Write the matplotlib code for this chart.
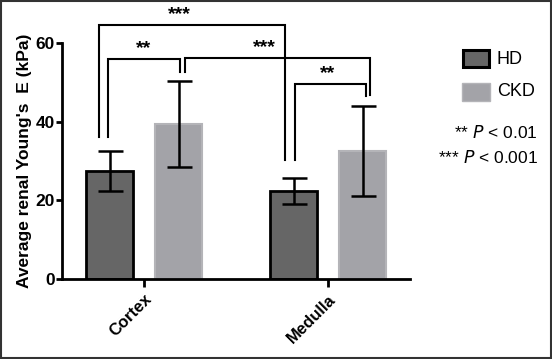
import matplotlib
matplotlib.use("Agg")
import matplotlib.pyplot as plt
from matplotlib.patches import Rectangle
import numpy as np

plt.rcParams['font.family'] = ['Liberation Sans', 'DejaVu Sans']

categories = ["Cortex", "Medulla"]
groups = ["HD", "CKD"]
hd_mean = [27.5, 22.3]
hd_err = [5.0, 3.3]
ckd_mean = [39.4, 32.6]
ckd_err = [11.0, 11.4]
yticks = [0, 20, 40, 60]

# significance brackets: (x_left, x_right, y_top, y_left_bottom, y_right_bottom, label, label_x)
brackets = [
    (-0.246, 0.766, 64.6, 36.1, 30.3, "***", 0.19),
    (-0.194, 0.196, 55.9, 36.2, 52.7, "**", 0.0),
    (0.223, 1.228, 56.1, 52.7, 46.8, "***", 0.652),
    (0.820, 1.207, 49.5, 30.3, 46.5, "**", 1.0),
]

fig = plt.figure(figsize=(5.52, 3.59), dpi=100)
ax = fig.add_axes([0.1123, 0.2228, 0.6307, 0.6572])

x = np.arange(len(categories))
off = 0.1875
w = 0.26
hd_col = "#666666"
ckd_col = "#a3a3a8"

ax.bar(x - off, hd_mean, w, color=hd_col, edgecolor="black", linewidth=2.0, zorder=2)
ax.bar(x + off, ckd_mean, w, color=ckd_col, edgecolor="#b4b4b8", linewidth=1.5, zorder=2)
ax.errorbar(x - off, hd_mean, yerr=hd_err, fmt="none", ecolor="black",
            elinewidth=1.8, capsize=9, capthick=1.8, zorder=3)
ax.errorbar(x + off, ckd_mean, yerr=ckd_err, fmt="none", ecolor="black",
            elinewidth=1.8, capsize=9, capthick=1.8, zorder=3)

for xl, xr, yt, yl, yr, lab, lx in brackets:
    ax.plot([xl, xl, xr, xr], [yl, yt, yt, yr], color="black", lw=1.5,
            clip_on=False, zorder=4, solid_joinstyle="miter")
    ax.text(lx, yt + 0.6, lab, ha="center", va="bottom",
            fontsize=14, fontweight="bold", clip_on=False)

ax.set_xlim(-0.446, 1.446)
ax.set_ylim(0, 60)
ax.set_yticks(yticks)
ax.set_yticklabels([str(t) for t in yticks], fontsize=12.5, fontweight="bold")
ax.set_xticks(x)
ax.set_xticklabels(categories, rotation=45, ha="right", rotation_mode="anchor",
                   fontsize=12, fontweight="bold")
ax.set_ylabel("Average renal Young's  E (kPa)", fontsize=12.5, fontweight="bold",
              labelpad=3)

for s in ["top", "right"]:
    ax.spines[s].set_visible(False)
for s in ["left", "bottom"]:
    ax.spines[s].set_linewidth(2.0)
ax.tick_params(axis="y", width=2.0, length=4, pad=1)
ax.tick_params(axis="x", width=2.0, length=6, pad=3)

# legend
fig.patches.append(Rectangle((463 / 552, 1 - 67 / 359), 26 / 552, 17 / 359,
                             transform=fig.transFigure, facecolor=hd_col,
                             edgecolor="black", linewidth=2.2))
fig.patches.append(Rectangle((462 / 552, 1 - 101 / 359), 28 / 552, 18 / 359,
                             transform=fig.transFigure, facecolor=ckd_col,
                             edgecolor="#b4b4b8", linewidth=1.0))
fig.text(497 / 552, 1 - 59 / 359, "HD", fontsize=13, va="center", ha="left")
fig.text(497 / 552, 1 - 92 / 359, "CKD", fontsize=13, va="center", ha="left")
fig.text(538 / 552, 1 - 133 / 359, r"** $\it{P}$ < 0.01", fontsize=12.5, va="center", ha="right")
fig.text(538 / 552, 1 - 157 / 359, r"*** $\it{P}$ < 0.001", fontsize=12.5, va="center", ha="right")

# frame
fig.patches.append(Rectangle((0.002, 0.003), 0.996, 0.994, transform=fig.transFigure,
                             facecolor="none", edgecolor="#333333", linewidth=1.5))

fig.savefig("out.png", dpi=100)
